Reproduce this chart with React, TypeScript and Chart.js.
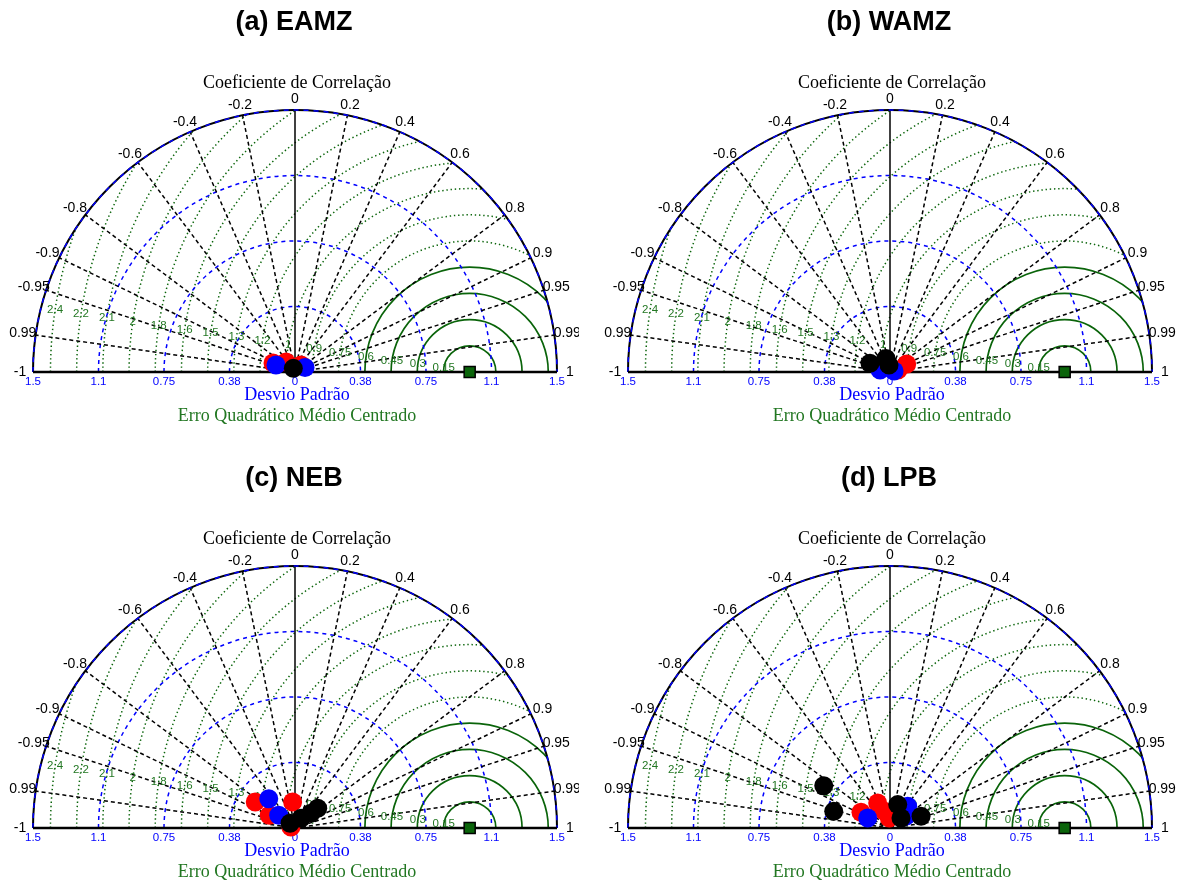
import React, { useEffect, useRef } from 'react';
import { Chart, registerables } from 'chart.js';

Chart.register(...registerables);

// ---------- axis / grid definitions ----------
const STD_MAX = 1.5;
const REF_STD = 1;
const STD_TICKS = [-1.5, -1.125, -0.75, -0.375, 0, 0.375, 0.75, 1.125, 1.5];
const STD_TICK_LABELS = ['1.5', '1.1', '0.75', '0.38', '0', '0.38', '0.75', '1.1', '1.5'];
const STD_CIRCLES = [0.375, 0.75, 1.125];
const CORR_TICKS = [-1, -0.99, -0.95, -0.9, -0.8, -0.6, -0.4, -0.2, 0, 0.2, 0.4, 0.6, 0.8, 0.9, 0.95, 0.99, 1];
const CORR_LABELS = ['-1', '0.99', '-0.95', '-0.9', '-0.8', '-0.6', '-0.4', '-0.2', '0', '0.2', '0.4', '0.6', '0.8', '0.9', '0.95', '0.99', '1'];
const RMS_RADII = [0.15, 0.3, 0.45, 0.6, 0.75, 0.9, 1.05, 1.2, 1.35, 1.5, 1.65, 1.8, 1.95, 2.1, 2.25, 2.4];
const RMS_LABELS = ['0.15', '0.3', '0.45', '0.6', '0.75', '0.9', '1', '1.2', '1.3', '1.5', '1.6', '1.8', '2', '2.1', '2.2', '2.4'];
const RMS_SOLID_COUNT = 4;

const TITLES = ['(a) EAMZ', '(b) WAMZ', '(c) NEB', '(d) LPB'];

// ---------- data: standard deviation and correlation per model group ----------
// (a) EAMZ
const A_RED_STD = [0.136, 0.077, 0.053];
const A_RED_CORR = [-0.926, -0.669, 0.651];
const A_BLUE_STD = [0.116, 0.063];
const A_BLUE_CORR = [-0.938, 0.912];
const A_BLACK_STD = [0.023];
const A_BLACK_CORR = [-0.416];
// (b) WAMZ
const B_RED_STD = [0.106, 0.047];
const B_RED_CORR = [0.902, 0.97];
const B_BLUE_STD = [0.058, 0.024];
const B_BLUE_CORR = [-0.98, 0.97];
const B_BLACK_STD = [0.125, 0.081, 0.041];
const B_BLACK_CORR = [-0.917, -0.284, -0.14];
// (c) NEB
const C_RED_STD = [0.272, 0.149, 0.164, 0.024];
const C_RED_CORR = [-0.837, -0.092, -0.897, -0.97];
const C_BLUE_STD = [0.225, 0.118];
const C_BLUE_CORR = [-0.668, -0.789];
const C_BLACK_STD = [0.039, 0.065, 0.124, 0.172];
const C_BLACK_CORR = [-0.728, 0.526, 0.736, 0.756];
// (d) LPB
const D_RED_STD = [0.189, 0.16, 0.101, 0.057];
const D_RED_CORR = [-0.879, -0.441, -0.323, -0.07];
const D_BLUE_STD = [0.14, 0.16, 0.115];
const D_BLUE_CORR = [-0.912, 0.632, 0.8];
const D_BLACK_STD = [0.45, 0.336, 0.141, 0.085, 0.19];
const D_BLACK_CORR = [-0.843, -0.959, 0.314, 0.74, 0.936];

const PANELS = [
  { title: TITLES[0], red: [A_RED_STD, A_RED_CORR], blue: [A_BLUE_STD, A_BLUE_CORR], black: [A_BLACK_STD, A_BLACK_CORR] },
  { title: TITLES[1], red: [B_RED_STD, B_RED_CORR], blue: [B_BLUE_STD, B_BLUE_CORR], black: [B_BLACK_STD, B_BLACK_CORR] },
  { title: TITLES[2], red: [C_RED_STD, C_RED_CORR], blue: [C_BLUE_STD, C_BLUE_CORR], black: [C_BLACK_STD, C_BLACK_CORR] },
  { title: TITLES[3], red: [D_RED_STD, D_RED_CORR], blue: [D_BLUE_STD, D_BLUE_CORR], black: [D_BLACK_STD, D_BLACK_CORR] },
];

const GREEN_LINE = '#0a640a';
const GREEN_TEXT = '#227722';
const BLUE = '#0000ff';
const SERIF = "'Liberation Serif', 'Times New Roman', serif";
const SANS = "'Liberation Sans', Arial, sans-serif";
const MARKER_R = 9.5;

const toPoints = (std: number[], corr: number[]) =>
  std.map((s, i) => ({ x: s * corr[i], y: s * Math.sqrt(Math.max(0, 1 - corr[i] * corr[i])) }));

function taylorPlugin(title: string) {
  return {
    id: 'taylorGrid',
    beforeDatasetsDraw(chart: any) {
      const ctx = chart.ctx as CanvasRenderingContext2D;
      const xs = chart.scales.x;
      const ys = chart.scales.y;
      const ox = xs.getPixelForValue(0);
      const oy = ys.getPixelForValue(0);
      const u = xs.getPixelForValue(1) - ox;
      const R = STD_MAX * u;
      const rx = xs.getPixelForValue(REF_STD);
      ctx.save();

      // green centered-RMS circles (clipped to the semicircle)
      ctx.save();
      ctx.beginPath();
      ctx.arc(ox, oy, R, Math.PI, 2 * Math.PI);
      ctx.closePath();
      ctx.clip();
      RMS_RADII.forEach((r, i) => {
        ctx.beginPath();
        ctx.arc(rx, oy, r * u, Math.PI, 2 * Math.PI);
        ctx.strokeStyle = GREEN_LINE;
        if (i < RMS_SOLID_COUNT) {
          ctx.setLineDash([]);
          ctx.lineWidth = 1.7;
        } else {
          ctx.setLineDash([1.4, 2.8]);
          ctx.lineWidth = 1.5;
        }
        ctx.stroke();
      });
      ctx.restore();

      // blue std circles
      ctx.strokeStyle = BLUE;
      ctx.lineWidth = 1.5;
      ctx.setLineDash([4, 4]);
      STD_CIRCLES.forEach((r) => {
        ctx.beginPath();
        ctx.arc(ox, oy, r * u, Math.PI, 2 * Math.PI);
        ctx.stroke();
      });

      // correlation rays
      ctx.strokeStyle = '#000';
      ctx.lineWidth = 1.5;
      ctx.setLineDash([4, 3]);
      CORR_TICKS.forEach((c) => {
        if (Math.abs(c) === 1 || c === 0) return;
        const th = Math.acos(c);
        ctx.beginPath();
        ctx.moveTo(ox, oy);
        ctx.lineTo(ox + R * Math.cos(th), oy - R * Math.sin(th));
        ctx.stroke();
      });

      // vertical zero-correlation line
      ctx.setLineDash([]);
      ctx.lineWidth = 1.5;
      ctx.beginPath();
      ctx.moveTo(ox, oy);
      ctx.lineTo(ox, oy - R);
      ctx.stroke();

      // outer arc
      ctx.lineWidth = 2;
      ctx.beginPath();
      ctx.arc(ox, oy, R, Math.PI, 2 * Math.PI);
      ctx.stroke();
      ctx.strokeStyle = BLUE;
      ctx.lineWidth = 1.5;
      ctx.setLineDash([5, 5]);
      ctx.beginPath();
      ctx.arc(ox, oy, R, Math.PI, 2 * Math.PI);
      ctx.stroke();

      // baseline
      ctx.setLineDash([]);
      ctx.strokeStyle = '#000';
      ctx.lineWidth = 2.5;
      ctx.beginPath();
      ctx.moveTo(ox - R, oy);
      ctx.lineTo(ox + R, oy);
      ctx.stroke();

      // correlation labels
      ctx.fillStyle = '#000';
      ctx.font = `14px ${SANS}`;
      ctx.textAlign = 'center';
      ctx.textBaseline = 'middle';
      CORR_TICKS.forEach((c, i) => {
        const th = Math.acos(c);
        const ex = ox + R * Math.cos(th);
        const ey = oy - R * Math.sin(th);
        ctx.fillText(CORR_LABELS[i], ex + 13 * Math.cos(th), ey - 10.5 * Math.sin(th));
      });

      // std tick labels
      ctx.fillStyle = BLUE;
      ctx.font = `11.5px ${SANS}`;
      STD_TICKS.forEach((v, i) => {
        ctx.fillText(STD_TICK_LABELS[i], xs.getPixelForValue(v), oy + 10);
      });

      // RMS labels
      ctx.fillStyle = GREEN_TEXT;
      ctx.font = `11.5px ${SANS}`;
      const la = (171.5 * Math.PI) / 180;
      RMS_RADII.forEach((r, i) => {
        ctx.fillText(RMS_LABELS[i], rx + r * u * Math.cos(la), oy - r * u * Math.sin(la));
      });

      // axis titles
      ctx.font = `18px ${SERIF}`;
      ctx.fillStyle = '#000';
      ctx.fillText('Coeficiente de Correlação', ox + 2, oy - 289);
      ctx.fillStyle = BLUE;
      ctx.fillText('Desvio Padrão', ox + 2, oy + 23);
      ctx.fillStyle = GREEN_TEXT;
      ctx.fillText('Erro Quadrático Médio Centrado', ox + 2, oy + 44);

      // panel title
      ctx.fillStyle = '#000';
      ctx.font = `bold 27px ${SANS}`;
      ctx.fillText(title, ox - 1, oy - 349);

      ctx.restore();
    },
  };
}

type PanelProps = { panel: any; left: number; top: number; width: number; height: number };

function Panel({ panel, left, top, width, height }: PanelProps) {
  const ref = useRef<HTMLCanvasElement | null>(null);
  useEffect(() => {
    if (!ref.current) return;
    // Chart.js paints dataset 0 last (on top): reference square, then black, blue, red.
    const chart = new Chart(ref.current, {
      type: 'scatter',
      data: {
        datasets: [
          {
            data: [{ x: REF_STD, y: 0 }],
            pointStyle: 'rect',
            pointRadius: 7.8,
            backgroundColor: '#0a640a',
            borderColor: '#000',
            borderWidth: 1.5,
            clip: false,
          },
          { data: toPoints(panel.black[0], panel.black[1]), backgroundColor: '#000000', borderWidth: 0, pointRadius: MARKER_R, clip: false },
          { data: toPoints(panel.blue[0], panel.blue[1]), backgroundColor: '#0000ff', borderWidth: 0, pointRadius: MARKER_R, clip: false },
          { data: toPoints(panel.red[0], panel.red[1]), backgroundColor: '#ff0000', borderWidth: 0, pointRadius: MARKER_R, clip: false },
        ] as any,
      },
      options: {
        animation: false,
        responsive: false,
        maintainAspectRatio: false,
        events: [],
        layout: { padding: { left: 33, right: width - 557, top: 110, bottom: height - 372 } },
        scales: {
          x: { type: 'linear', min: -STD_MAX, max: STD_MAX, display: false },
          y: { type: 'linear', min: 0, max: STD_MAX, display: false },
        },
        plugins: { legend: { display: false }, tooltip: { enabled: false } },
      } as any,
      plugins: [taylorPlugin(panel.title)],
    });
    return () => chart.destroy();
  }, [panel, width, height]);
  return (
    <canvas
      ref={ref}
      width={width}
      height={height}
      style={{ position: 'absolute', left, top, width, height }}
    />
  );
}

export default function App() {
  return (
    <div
      style={{
        position: 'absolute',
        left: 0,
        top: 0,
        width: 1182,
        height: 883,
        overflow: 'hidden',
        background: '#fff',
      }}
    >
      <Panel panel={PANELS[0]} left={0} top={0} width={579} height={456} />
      <Panel panel={PANELS[1]} left={595} top={0} width={587} height={456} />
      <Panel panel={PANELS[2]} left={0} top={456} width={579} height={427} />
      <Panel panel={PANELS[3]} left={595} top={456} width={587} height={427} />
    </div>
  );
}
